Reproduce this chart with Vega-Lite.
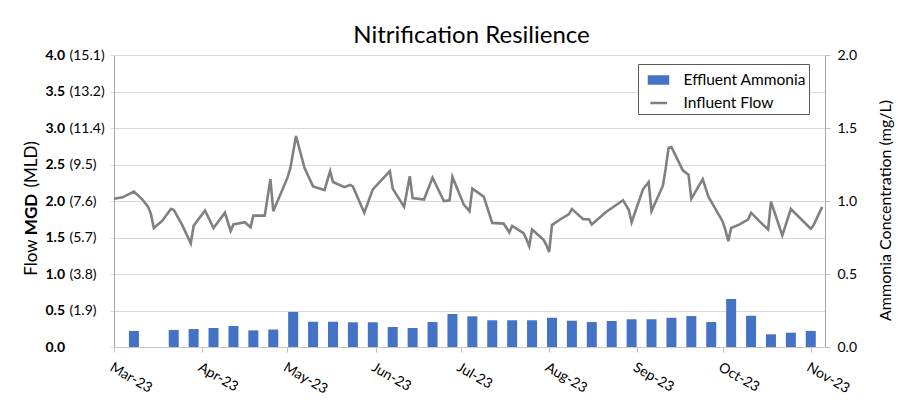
{
  "$schema": "https://vega.github.io/schema/vega-lite/v6.json",
  "width": 711,
  "height": 292,
  "autosize": {"type": "none"},
  "padding": {"left": 114, "top": 55, "right": 78, "bottom": 59},
  "background": "white",
  "config": {
    "font": "Lato",
    "view": {"stroke": null},
    "axis": {"labelFont": "Lato", "titleFont": "Lato", "labelColor": "#000000", "titleColor": "#000000"}
  },
  "title": {
    "text": "Nitrification Resilience",
    "fontSize": 24,
    "fontWeight": "normal",
    "font": "Lato",
    "color": "#000000",
    "anchor": "middle",
    "frame": "group",
    "offset": 0,
    "dx": 2
  },
  "datasets": {
    "flow": [
      {"date": "2023-03-01", "mgd": 2.03},
      {"date": "2023-03-04", "mgd": 2.05},
      {"date": "2023-03-08", "mgd": 2.13},
      {"date": "2023-03-11", "mgd": 2.02},
      {"date": "2023-03-13", "mgd": 1.92},
      {"date": "2023-03-14", "mgd": 1.82},
      {"date": "2023-03-15", "mgd": 1.63},
      {"date": "2023-03-18", "mgd": 1.73},
      {"date": "2023-03-21", "mgd": 1.89},
      {"date": "2023-03-22", "mgd": 1.88},
      {"date": "2023-03-25", "mgd": 1.67},
      {"date": "2023-03-28", "mgd": 1.42},
      {"date": "2023-03-29", "mgd": 1.66},
      {"date": "2023-04-02", "mgd": 1.87},
      {"date": "2023-04-05", "mgd": 1.63},
      {"date": "2023-04-09", "mgd": 1.84},
      {"date": "2023-04-11", "mgd": 1.59},
      {"date": "2023-04-12", "mgd": 1.68},
      {"date": "2023-04-16", "mgd": 1.71},
      {"date": "2023-04-18", "mgd": 1.64},
      {"date": "2023-04-19", "mgd": 1.80},
      {"date": "2023-04-23", "mgd": 1.80},
      {"date": "2023-04-25", "mgd": 2.30},
      {"date": "2023-04-26", "mgd": 1.86},
      {"date": "2023-05-01", "mgd": 2.32},
      {"date": "2023-05-02", "mgd": 2.45},
      {"date": "2023-05-04", "mgd": 2.89},
      {"date": "2023-05-07", "mgd": 2.45},
      {"date": "2023-05-10", "mgd": 2.20},
      {"date": "2023-05-14", "mgd": 2.15},
      {"date": "2023-05-16", "mgd": 2.41},
      {"date": "2023-05-17", "mgd": 2.26},
      {"date": "2023-05-21", "mgd": 2.19},
      {"date": "2023-05-23", "mgd": 2.22},
      {"date": "2023-05-24", "mgd": 2.20},
      {"date": "2023-05-28", "mgd": 1.84},
      {"date": "2023-05-31", "mgd": 2.16},
      {"date": "2023-06-06", "mgd": 2.41},
      {"date": "2023-06-07", "mgd": 2.17},
      {"date": "2023-06-11", "mgd": 1.92},
      {"date": "2023-06-13", "mgd": 2.34},
      {"date": "2023-06-14", "mgd": 2.04},
      {"date": "2023-06-18", "mgd": 2.02},
      {"date": "2023-06-21", "mgd": 2.32},
      {"date": "2023-06-25", "mgd": 2.00},
      {"date": "2023-06-27", "mgd": 2.01},
      {"date": "2023-06-28", "mgd": 2.33},
      {"date": "2023-07-02", "mgd": 1.95},
      {"date": "2023-07-04", "mgd": 1.86},
      {"date": "2023-07-05", "mgd": 2.17},
      {"date": "2023-07-09", "mgd": 2.06},
      {"date": "2023-07-12", "mgd": 1.70},
      {"date": "2023-07-16", "mgd": 1.69},
      {"date": "2023-07-18", "mgd": 1.57},
      {"date": "2023-07-19", "mgd": 1.66},
      {"date": "2023-07-23", "mgd": 1.56},
      {"date": "2023-07-24", "mgd": 1.48},
      {"date": "2023-07-25", "mgd": 1.38},
      {"date": "2023-07-26", "mgd": 1.61},
      {"date": "2023-07-30", "mgd": 1.47},
      {"date": "2023-07-31", "mgd": 1.40},
      {"date": "2023-08-01", "mgd": 1.30},
      {"date": "2023-08-02", "mgd": 1.67},
      {"date": "2023-08-05", "mgd": 1.75},
      {"date": "2023-08-08", "mgd": 1.82},
      {"date": "2023-08-09", "mgd": 1.89},
      {"date": "2023-08-13", "mgd": 1.75},
      {"date": "2023-08-15", "mgd": 1.75},
      {"date": "2023-08-16", "mgd": 1.68},
      {"date": "2023-08-21", "mgd": 1.85},
      {"date": "2023-08-27", "mgd": 2.01},
      {"date": "2023-08-29", "mgd": 1.88},
      {"date": "2023-08-30", "mgd": 1.71},
      {"date": "2023-09-03", "mgd": 2.16},
      {"date": "2023-09-05", "mgd": 2.26},
      {"date": "2023-09-06", "mgd": 1.86},
      {"date": "2023-09-10", "mgd": 2.21},
      {"date": "2023-09-11", "mgd": 2.45},
      {"date": "2023-09-12", "mgd": 2.73},
      {"date": "2023-09-13", "mgd": 2.74},
      {"date": "2023-09-17", "mgd": 2.42},
      {"date": "2023-09-19", "mgd": 2.36},
      {"date": "2023-09-20", "mgd": 2.03},
      {"date": "2023-09-24", "mgd": 2.30},
      {"date": "2023-09-26", "mgd": 2.06},
      {"date": "2023-10-01", "mgd": 1.72},
      {"date": "2023-10-02", "mgd": 1.60},
      {"date": "2023-10-03", "mgd": 1.45},
      {"date": "2023-10-04", "mgd": 1.63},
      {"date": "2023-10-07", "mgd": 1.68},
      {"date": "2023-10-10", "mgd": 1.75},
      {"date": "2023-10-11", "mgd": 1.84},
      {"date": "2023-10-14", "mgd": 1.72},
      {"date": "2023-10-17", "mgd": 1.61},
      {"date": "2023-10-18", "mgd": 1.99},
      {"date": "2023-10-22", "mgd": 1.53},
      {"date": "2023-10-25", "mgd": 1.89},
      {"date": "2023-11-01", "mgd": 1.62},
      {"date": "2023-11-02", "mgd": 1.67},
      {"date": "2023-11-05", "mgd": 1.92}
    ],
    "ammonia": [
      {"date": "2023-03-08", "mgl": 0.11},
      {"date": "2023-03-22", "mgl": 0.117},
      {"date": "2023-03-29", "mgl": 0.123},
      {"date": "2023-04-05", "mgl": 0.13},
      {"date": "2023-04-12", "mgl": 0.144},
      {"date": "2023-04-19", "mgl": 0.114},
      {"date": "2023-04-26", "mgl": 0.12},
      {"date": "2023-05-03", "mgl": 0.24},
      {"date": "2023-05-10", "mgl": 0.173},
      {"date": "2023-05-17", "mgl": 0.173},
      {"date": "2023-05-24", "mgl": 0.169},
      {"date": "2023-05-31", "mgl": 0.169},
      {"date": "2023-06-07", "mgl": 0.137},
      {"date": "2023-06-14", "mgl": 0.13},
      {"date": "2023-06-21", "mgl": 0.171},
      {"date": "2023-06-28", "mgl": 0.226},
      {"date": "2023-07-05", "mgl": 0.21},
      {"date": "2023-07-12", "mgl": 0.183},
      {"date": "2023-07-19", "mgl": 0.183},
      {"date": "2023-07-26", "mgl": 0.183},
      {"date": "2023-08-02", "mgl": 0.2},
      {"date": "2023-08-09", "mgl": 0.18},
      {"date": "2023-08-16", "mgl": 0.171},
      {"date": "2023-08-23", "mgl": 0.178},
      {"date": "2023-08-30", "mgl": 0.19},
      {"date": "2023-09-06", "mgl": 0.19},
      {"date": "2023-09-13", "mgl": 0.2},
      {"date": "2023-09-20", "mgl": 0.212},
      {"date": "2023-09-27", "mgl": 0.171},
      {"date": "2023-10-04", "mgl": 0.329},
      {"date": "2023-10-11", "mgl": 0.214},
      {"date": "2023-10-18", "mgl": 0.087},
      {"date": "2023-10-25", "mgl": 0.098},
      {"date": "2023-11-01", "mgl": 0.11}
    ]
  },
  "encoding": {
    "x": {
      "field": "date",
      "type": "temporal",
      "scale": {
        "type": "utc",
        "padding": 0,
        "domain": [
          {"year": 2023, "month": 3, "date": 1, "utc": true},
          {"year": 2023, "month": 11, "date": 6, "utc": true}
        ]
      },
      "axis": {
        "values": [
          {"year": 2023, "month": 3, "date": 1, "utc": true},
          {"year": 2023, "month": 4, "date": 1, "utc": true},
          {"year": 2023, "month": 5, "date": 1, "utc": true},
          {"year": 2023, "month": 6, "date": 1, "utc": true},
          {"year": 2023, "month": 7, "date": 1, "utc": true},
          {"year": 2023, "month": 8, "date": 1, "utc": true},
          {"year": 2023, "month": 9, "date": 1, "utc": true},
          {"year": 2023, "month": 10, "date": 1, "utc": true},
          {"year": 2023, "month": 11, "date": 1, "utc": true}
        ],
        "labelExpr": "utcFormat(datum.value, '%b-%y')",
        "labelAngle": 30,
        "labelAlign": "left",
        "labelBaseline": "top",
        "labelFontSize": 14,
        "labelPadding": 8,
        "labelFlush": false,
        "labelOverlap": false,
        "tickSize": 5,
        "tickColor": "#bfbfbf",
        "domain": true,
        "domainColor": "#c8c8c8",
        "domainWidth": 1,
        "grid": false,
        "title": null
      }
    }
  },
  "layer": [
    {
      "data": {"name": "ammonia"},
      "mark": {"type": "bar", "width": 10},
      "encoding": {
        "y": {
          "field": "mgl",
          "type": "quantitative",
          "scale": {"domain": [0, 2], "nice": false},
          "axis": {
            "orient": "right",
            "values": [0, 0.5, 1, 1.5, 2],
            "format": ".1f",
            "labelFontSize": 14,
            "labelPadding": 7,
            "tickSize": 5,
            "tickColor": "#bfbfbf",
            "domain": true,
            "domainColor": "#a6a6a6",
            "domainWidth": 1,
            "grid": false,
            "title": "Ammonia Concentration (mg/L)",
            "titleFontSize": 16,
            "titleFontWeight": "normal",
            "titleAngle": 270,
            "titleAlign": "center",
            "titleBaseline": "middle",
            "titleX": 60,
            "titleY": 155
          }
        },
        "color": {
          "datum": "Effluent Ammonia",
          "scale": {"domain": ["Effluent Ammonia", "Influent Flow"], "range": ["#4472C4", "#808080"]},
          "legend": {
            "orient": "none",
            "legendX": 524,
            "legendY": 9,
            "title": null,
            "direction": "vertical",
            "fillColor": "#ffffff",
            "strokeColor": "#595959",
            "padding": 2.5,
            "rowPadding": 0,
            "symbolSize": 600,
            "symbolStrokeWidth": 2.5,
            "labelOffset": 16,
            "labelFont": "Lato",
            "labelFontSize": 15.5,
            "labelColor": "#000000",
            "labelLimit": 0,
            "encode": {
              "symbols": {
                "update": {
                  "shape": {"signal": "datum.value === 'Influent Flow' ? 'M-0.3,0H1.06' : 'M-0.408,-0.286H1.14V0.286H-0.408Z'"},
                  "fill": {"signal": "datum.value === 'Influent Flow' ? 'transparent' : '#4472C4'"},
                  "stroke": {"signal": "datum.value === 'Influent Flow' ? '#808080' : 'transparent'"},
                  "strokeWidth": {"value": 2.5},
                  "opacity": {"value": 1}
                }
              }
            }
          }
        }
      }
    },
    {
      "data": {"name": "flow"},
      "mark": {"type": "line", "strokeWidth": 2.6},
      "encoding": {
        "y": {
          "field": "mgd",
          "type": "quantitative",
          "scale": {"domain": [0, 4], "nice": false},
          "axis": {
            "orient": "left",
            "values": [0, 0.5, 1, 1.5, 2, 2.5, 3, 3.5, 4],
            "labelExpr": "format(datum.value, '.1f')",
            "labelFontWeight": "bold",
            "labelFontSize": 14,
            "labelAlign": "left",
            "labelPadding": 65,
            "tickSize": 4,
            "tickColor": "#d9d9d9",
            "domain": true,
            "domainColor": "#a6a6a6",
            "domainWidth": 1,
            "grid": true,
            "gridColor": "#d9d9d9",
            "title": "MGD",
            "titleFontSize": 17,
            "titleFontWeight": "bold",
            "titleAngle": 270,
            "titleAlign": "center",
            "titleBaseline": "middle",
            "titleX": -83,
            "titleY": 159
          }
        },
        "color": {"datum": "Influent Flow"}
      }
    },
    {
      "data": {"name": "flow"},
      "mark": {"type": "line", "opacity": 0},
      "encoding": {
        "y": {
          "field": "mgd",
          "type": "quantitative",
          "scale": {"domain": [0, 4], "nice": false},
          "axis": {
            "orient": "left",
            "values": [0, 0.5, 1, 1.5, 2, 2.5, 3, 3.5, 4],
            "labelExpr": "datum.value == 0 ? '' : '(' + format(datum.value * 3.785, '.1f') + ')'",
            "labelFontWeight": "normal",
            "labelFontSize": 14,
            "labelAlign": "left",
            "labelPadding": 45,
            "ticks": false,
            "tickSize": 0,
            "domain": false,
            "grid": false,
            "title": "Flow\u00a0\u00a0\u00a0\u00a0\u00a0\u00a0\u00a0\u00a0\u00a0\u00a0\u00a0\u00a0(MLD)",
            "titleFontSize": 17,
            "titleFontWeight": "normal",
            "titleAngle": 270,
            "titleAlign": "center",
            "titleBaseline": "middle",
            "titleX": -83,
            "titleY": 153
          }
        }
      }
    }
  ],
  "resolve": {"scale": {"y": "independent"}}
}
